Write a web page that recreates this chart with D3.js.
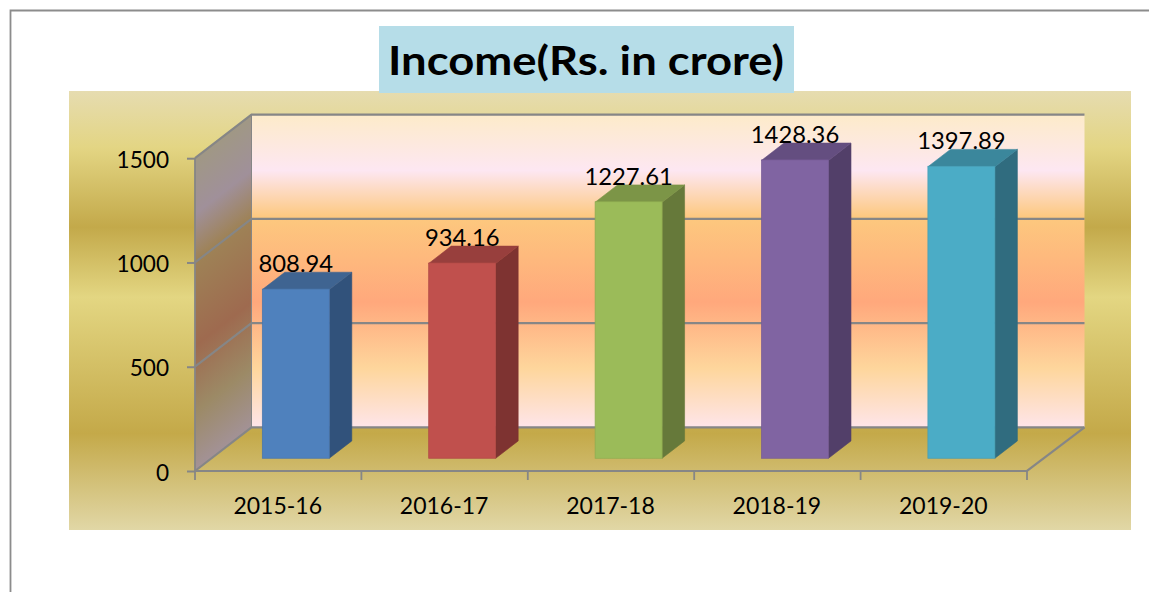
<!DOCTYPE html>
<html><head><meta charset="utf-8">
<script src="https://cdn.jsdelivr.net/npm/d3@7/dist/d3.min.js"></script>
<style>html,body{margin:0;padding:0;background:#fff;overflow:hidden}svg{display:block}text{font-family:Lato,"Open Sans",sans-serif;fill:#000}</style>
</head><body><svg id="c" width="1149" height="592"></svg>
<script>
const titleText = "Income(Rs. in crore)";
const categories = ["2015-16","2016-17","2017-18","2018-19","2019-20"];
const incomeValues = [808.94,934.16,1227.61,1428.36,1397.89];
const valueLabels = ["808.94","934.16","1227.61","1428.36","1397.89"];
const yTicks = [0,500,1000,1500];
const faceColors = ["#4f81bd","#c0504d","#9bbb59","#8064a2","#4bacc6"];
const sideColors = ["#31527b","#7e3331","#66793a","#523f69","#306c7f"];
const topColors  = ["#3f6491","#983f3d","#7c9547","#644e80","#3b879c"];
const goldStops = [[0,"#e6dcb0"],[.13,"#e3d583"],[.31,"#c3a94a"],[.47,"#e3d682"],[.78,"#c4a949"],[1,"#e1d7a6"]];
const wallStops = [[0,"#fdebc9"],[.18,"#fde7f2"],[.33,"#fdc87e"],[.6,"#ffa87c"],[.81,"#fed69c"],[1,"#fee5ea"]];
const sideStops = [[0,"#a09884"],[.18,"#a0909a"],[.33,"#9e8256"],[.6,"#9e6a4f"],[.81,"#9c8a66"],[1,"#a39297"]];

const svg = d3.select("#c");
const defs = svg.append("defs");
function grad(id, stops, y1, y2, tr){
  const g = defs.append("linearGradient").attr("id",id).attr("gradientUnits","userSpaceOnUse")
    .attr("x1",0).attr("x2",0).attr("y1",y1).attr("y2",y2);
  if(tr) g.attr("gradientTransform",tr);
  g.selectAll("stop").data(stops).join("stop").attr("offset",d=>d[0]).attr("stop-color",d=>d[1]);
}
const DX=56.5, DY=43.6, GREY="#868686";
const x = d3.scaleBand().domain(categories).range([195,1027]);
const y = d3.scaleLinear().domain([0,1500]).range([471,158.2]);
const slope = DY/DX;
grad("gold",goldStops,91,530);
grad("wall",wallStops,114,428);
grad("side",sideStops,114,428,`matrix(1,${-slope},0,1,0,${slope*(195+DX)})`);

// page frame
svg.append("path").attr("d","M10.5,592V10.5H1149").attr("fill","none").attr("stroke","#8c8c8c").attr("stroke-width",1.8);
// chart area
svg.append("rect").attr("x",69).attr("y",91).attr("width",1062).attr("height",439).attr("fill","url(#gold)");
// title
svg.append("rect").attr("x",379).attr("y",26).attr("width",415).attr("height",67).attr("fill","#b6dde8");
svg.append("text").attr("x",586).attr("y",75).attr("text-anchor","middle")
  .attr("font-size",41).attr("font-weight",700).attr("textLength",396).attr("lengthAdjust","spacingAndGlyphs").text(titleText);

const x0=x.range()[0], x1=x.range()[1];
// walls
svg.append("rect").attr("x",x0+DX).attr("y",y(1500)-DY).attr("width",x1-x0+1).attr("height",y(0)-y(1500)).attr("fill","url(#wall)");
svg.append("path").attr("d",`M${x0},${y(1500)}L${x0+DX},${y(1500)-DY}V${y(0)-DY}L${x0},${y(0)}Z`).attr("fill","url(#side)");
// gridlines
const grid = svg.append("g").attr("fill","none").attr("stroke",GREY);
yTicks.forEach(t=>{
  grid.append("path").attr("stroke-width",2.2).attr("d",`M${x0},${y(t)}L${x0+DX},${y(t)-DY}H${x1+DX+1}`);
});
grid.append("path").attr("stroke-width",2.2).attr("d",`M${x0},${y(0)}H${x1}L${x1+DX+1},${y(0)-DY}`);
grid.append("path").attr("stroke-width",1.8).attr("d",`M${x0},${y(0)}V${y(1500)}`);
grid.append("path").attr("stroke-width",1).attr("d",`M${x0+DX},${y(0)-DY}V${y(1500)-DY}`);

// bars
const FRONT=.292, BACK=.69, BW=67, SHIFT=17.6;
const bars = svg.append("g").selectAll("g").data(categories).join("g");
const left = d=>x(d)+x.bandwidth()/2+SHIFT-BW/2;
const dxB=(BACK-FRONT)*DX, dyB=(BACK-FRONT)*DY, fy=FRONT*DY;
bars.append("path").attr("fill",(d,i)=>sideColors[i]).attr("stroke",(d,i)=>sideColors[i]).attr("stroke-width",.6)
  .attr("d",(d,i)=>{const l=left(d)+BW,t=y(incomeValues[i])-fy,b=y(0)-fy;return `M${l},${t}L${l+dxB},${t-dyB}V${b-dyB}L${l},${b}Z`;});
bars.append("path").attr("fill",(d,i)=>topColors[i]).attr("stroke",(d,i)=>topColors[i]).attr("stroke-width",.6)
  .attr("d",(d,i)=>{const l=left(d),t=y(incomeValues[i])-fy;return `M${l},${t}L${l+dxB},${t-dyB}H${l+BW+dxB}L${l+BW},${t}Z`;});
bars.append("rect").attr("x",left).attr("width",BW).attr("y",(d,i)=>y(incomeValues[i])-fy-.5)
  .attr("height",(d,i)=>y(0)-y(incomeValues[i])+.5).attr("fill",(d,i)=>faceColors[i])
  .attr("stroke",(d,i)=>d3.color(faceColors[i]).darker(.25)).attr("stroke-width",.7);
bars.append("text").attr("text-anchor","middle").attr("font-size",23.8)
  .attr("x",d=>left(d)+BW/2).attr("y",(d,i)=>y(incomeValues[i])-fy-dyB-.3).text((d,i)=>valueLabels[i]);

// axes
const yAxis = svg.append("g").attr("transform",`translate(${x0},0)`)
  .call(d3.axisLeft(y).tickValues(yTicks).tickSize(8).tickPadding(18).tickFormat(d3.format("d")));
yAxis.select(".domain").remove();
yAxis.selectAll("line").attr("stroke",GREY).attr("stroke-width",2);
yAxis.selectAll("text").attr("font-size",22.6).attr("dy",null).attr("y",9.2);
const xAxis = svg.append("g").attr("transform",`translate(0,${y(0)})`)
  .call(d3.axisBottom(x).tickSize(0));
xAxis.select(".domain").remove();
xAxis.selectAll("text").attr("font-size",23).attr("dy",null).attr("y",43).attr("dx",-0.5);
svg.append("g").attr("transform",`translate(0,${y(0)})`).selectAll("line")
  .data(categories.map(c=>x(c)).concat([x1])).join("line")
  .attr("x1",d=>d).attr("x2",d=>d).attr("y1",0).attr("y2",9).attr("stroke",GREY).attr("stroke-width",1.8);
</script></body></html>
